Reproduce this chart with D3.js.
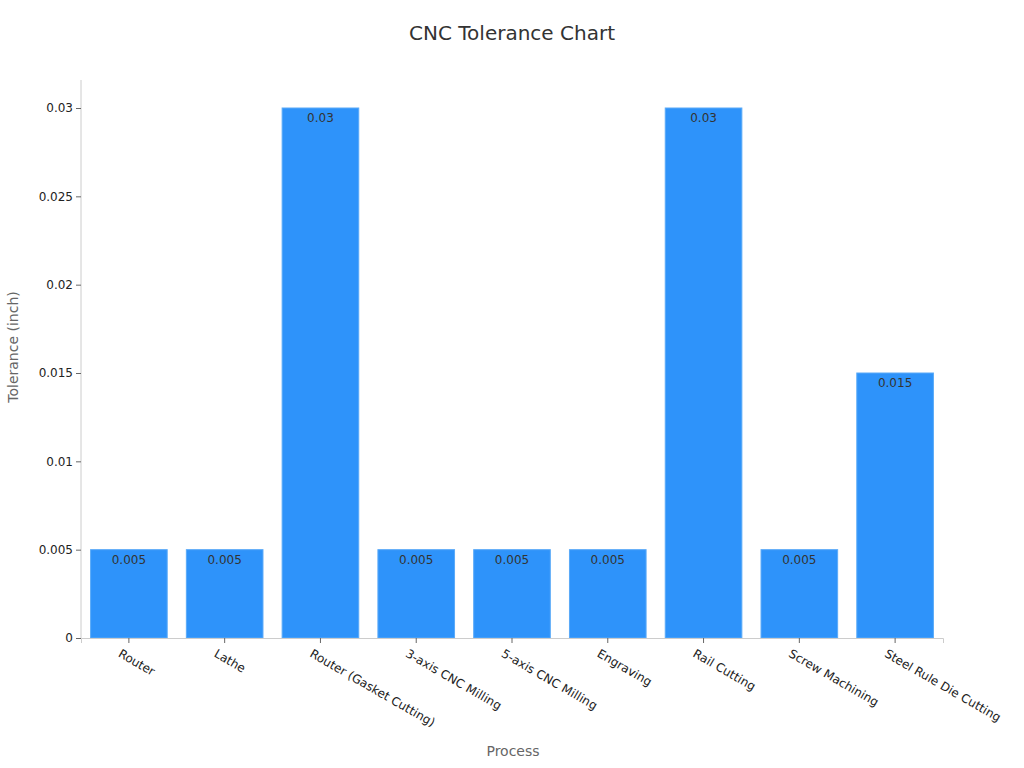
<!doctype html>
<html lang="en">
<head>
<meta charset="utf-8">
<title>CNC Tolerance Chart</title>
<style>body{margin:0;background:#fff;font-family:"DejaVu Sans",sans-serif;}</style>
</head>
<body>
<script src="https://cdn.jsdelivr.net/npm/d3@7/dist/d3.min.js"></script>
<script>
var processes = ["Router", "Lathe", "Router (Gasket Cutting)", "3-axis CNC Milling", "5-axis CNC Milling", "Engraving", "Rail Cutting", "Screw Machining", "Steel Rule Die Cutting"];
var tolerances = [0.005, 0.005, 0.03, 0.005, 0.005, 0.005, 0.03, 0.005, 0.015];
var yTicks = [0, 0.005, 0.01, 0.015, 0.02, 0.025, 0.03];

var margin = {top: 80, right: 81, bottom: 130, left: 81},
    width = 1024 - margin.left - margin.right,
    height = 768 - margin.top - margin.bottom;

var svg = d3.select("body").append("svg")
  .attr("width", 1024).attr("height", 768);

var chart = svg.append("g")
  .attr("transform", "translate(" + margin.left + "," + margin.top + ")");

var y = d3.scaleLinear().domain([0, 0.03]).range([height, 28]);
var x = d3.scaleBand().domain(processes).range([0, width]).paddingInner(0.2).paddingOuter(0.1);

chart.selectAll(".bar")
  .data(processes)
  .enter().append("rect")
  .attr("x", function(d){ return x(d); })
  .attr("y", function(d, i){ return y(tolerances[i]); })
  .attr("width", x.bandwidth())
  .attr("height", function(d, i){ return height - y(tolerances[i]); })
  .attr("fill", "#2E93FA")
  .attr("stroke", "#5aaaf8")
  .attr("stroke-width", 1);

chart.selectAll(".lbl")
  .data(processes)
  .enter().append("text")
  .attr("x", function(d){ return x(d) + x.bandwidth() / 2; })
  .attr("y", function(d, i){ return y(tolerances[i]) + 14; })
  .attr("text-anchor", "middle")
  .attr("font-size", 12)
  .attr("fill", "#333")
  .text(function(d, i){ return tolerances[i]; });

var yAxis = chart.append("g")
  .call(d3.axisLeft(y).tickValues(yTicks).tickFormat(function(d){ return d; }).tickSize(5));
yAxis.select(".domain").attr("stroke", "#ccc").attr("d", "M0,0V" + height);
yAxis.selectAll(".tick line").attr("stroke", "#666");
yAxis.selectAll("text").attr("font-size", 12).attr("fill", "#222").attr("font-family", "DejaVu Sans");

var xAxis = chart.append("g")
  .attr("transform", "translate(0," + height + ")")
  .call(d3.axisBottom(x).tickSize(5));
xAxis.select(".domain").attr("stroke", "#ccc");
xAxis.selectAll(".tick line").attr("stroke", "#666");
xAxis.selectAll("text")
  .attr("font-size", 12).attr("fill", "#222").attr("font-family", "DejaVu Sans")
  .attr("text-anchor", "start")
  .attr("transform", "translate(0,3) rotate(30)")
  .attr("dy", "0.9em").attr("dx", "-0.2em");

svg.append("text")
  .attr("x", 512).attr("y", 40)
  .attr("text-anchor", "middle")
  .attr("font-size", 20).attr("fill", "#333")
  .text("CNC Tolerance Chart");

svg.append("text")
  .attr("x", 513).attr("y", 756)
  .attr("text-anchor", "middle")
  .attr("font-size", 14).attr("fill", "#666")
  .text("Process");

svg.append("text")
  .attr("transform", "translate(18," + (margin.top + height / 2 - 12) + ") rotate(-90)")
  .attr("text-anchor", "middle")
  .attr("font-size", 14).attr("fill", "#666")
  .text("Tolerance (inch)");
</script>
</body>
</html>
